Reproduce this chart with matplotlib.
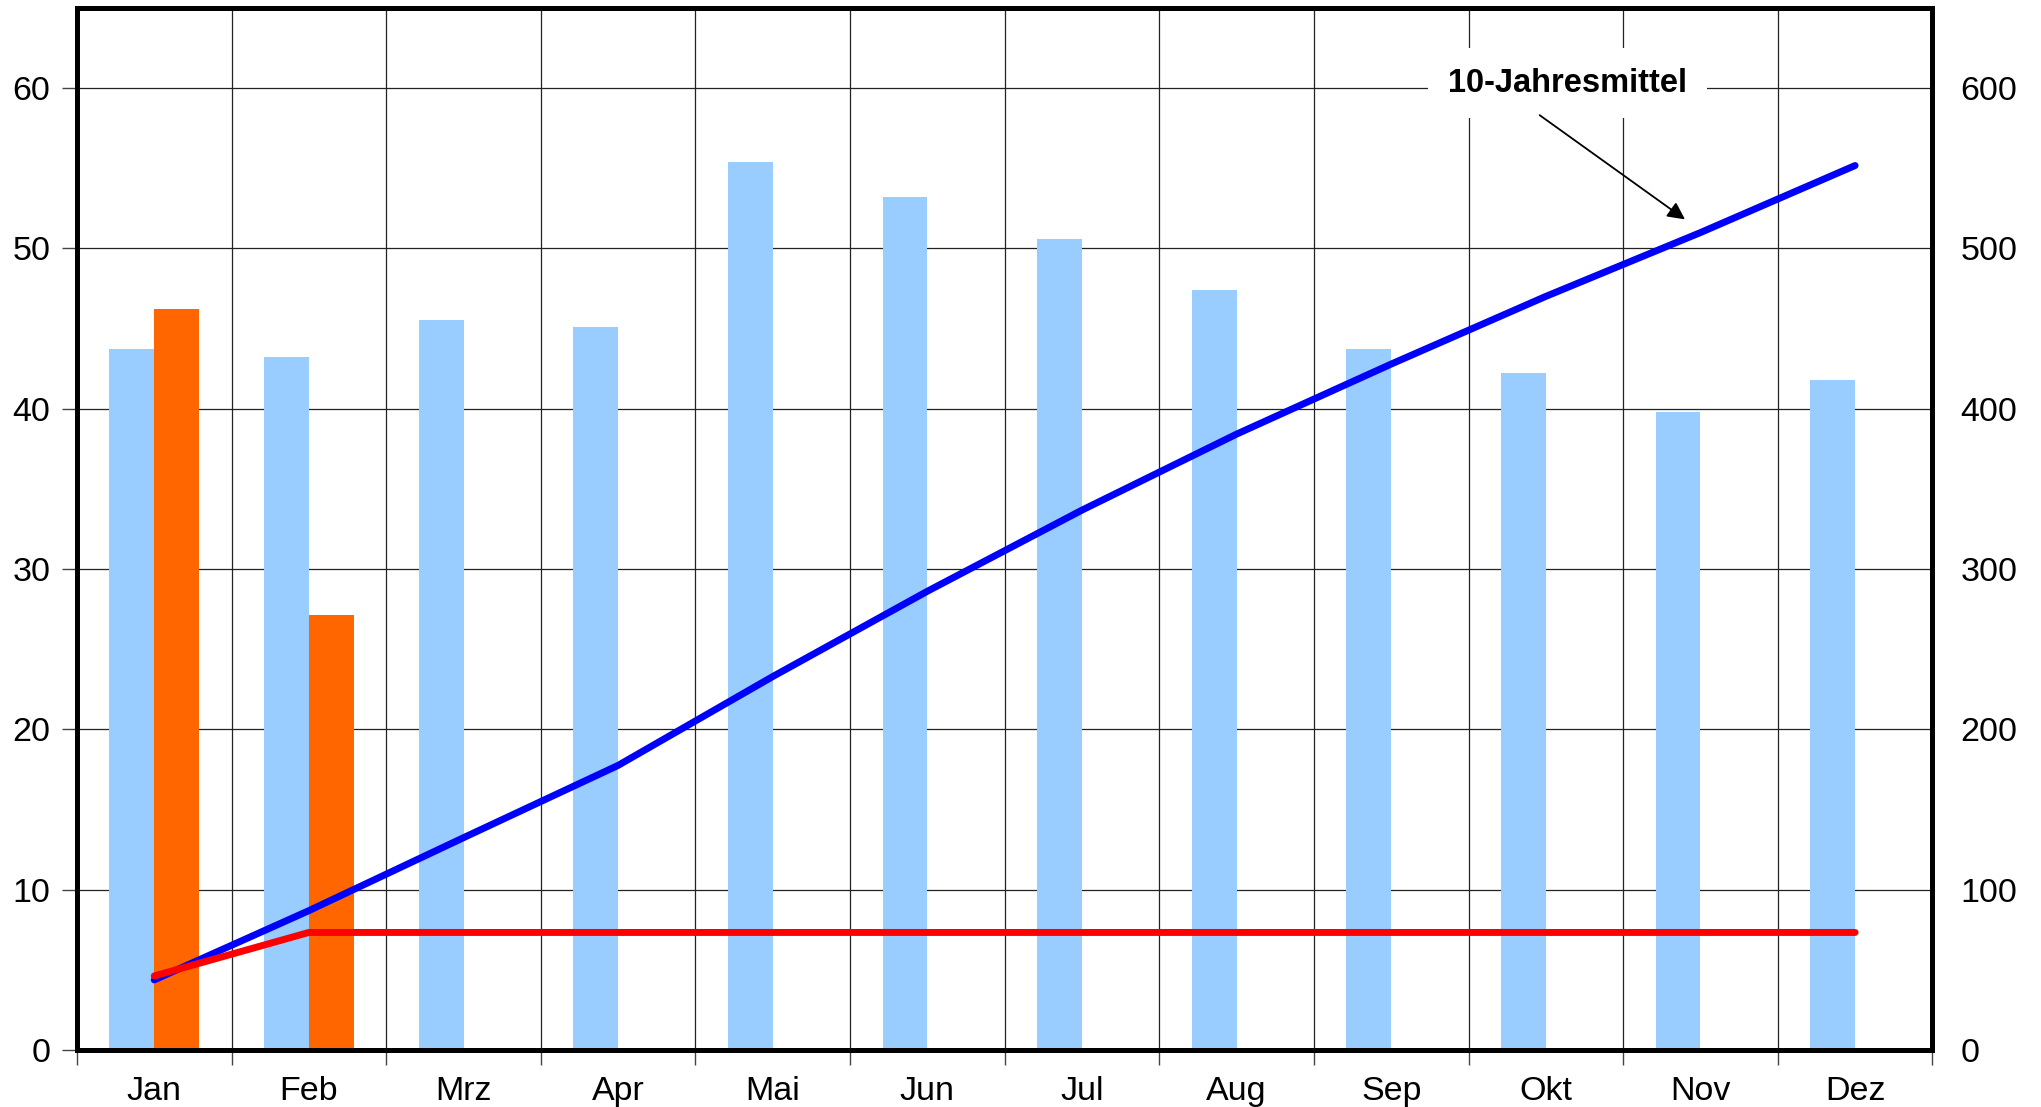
import matplotlib.pyplot as plt
import numpy as np

plt.rcParams['font.family'] = ['Liberation Sans', 'DejaVu Sans']

months = ['Jan', 'Feb', 'Mrz', 'Apr', 'Mai', 'Jun', 'Jul', 'Aug', 'Sep', 'Okt', 'Nov', 'Dez']
mittel_monat = [43.7, 43.2, 45.5, 45.1, 55.4, 53.2, 50.6, 47.4, 43.7, 42.2, 39.8, 41.8]
aktuell_monat = [46.2, 27.1]
mittel_summe = [43.7, 86.9, 132.4, 177.5, 232.9, 286.1, 336.7, 384.1, 427.8, 470.0, 509.8, 551.6]
aktuell_summe = [46.2, 73.3, 73.3, 73.3, 73.3, 73.3, 73.3, 73.3, 73.3, 73.3, 73.3, 73.3]

x = np.arange(len(months))
w = 0.29

fig = plt.figure(figsize=(20.41, 11.07), dpi=100)
ax = fig.add_axes([0.0377, 0.0515, 0.9091, 0.9415])

ax.bar(x - w / 2, mittel_monat, w, color='#99CCFF', zorder=2)
ax.bar(x[:len(aktuell_monat)] + w / 2, aktuell_monat, w, color='#FF6600', zorder=2)

ax.set_xlim(-0.5, 11.5)
ax.set_ylim(0, 65)
ax.set_yticks(np.arange(0, 61, 10))
ax.set_xticks(x)
ax.set_xticklabels(months)
ax.set_xticks(np.arange(-0.5, 12, 1), minor=True)
ax.tick_params(axis='x', which='major', length=0, pad=19, labelsize=24.5)
ax.tick_params(axis='x', which='minor', length=11, width=1, color='#444444')
ax.tick_params(axis='y', length=11, width=1, color='#444444', pad=8, labelsize=24.5)
ax.grid(axis='y', color='#222222', lw=0.9)
ax.grid(axis='x', which='minor', color='#222222', lw=0.9)
ax.set_axisbelow(True)

ax2 = ax.twinx()
ax2.plot(x, mittel_summe, color='#0000FF', lw=5, solid_capstyle='round', zorder=3)
ax2.plot(x, aktuell_summe, color='#FF0000', lw=5, solid_capstyle='round', zorder=3)
ax2.set_ylim(0, 650)
ax2.set_yticks(np.arange(0, 601, 100))
ax2.tick_params(axis='y', length=0, pad=20, labelsize=24.5)

for a in (ax, ax2):
    for s in a.spines.values():
        s.set_linewidth(3.5)
        s.set_color('black')

ax2.text(9.14, 603, '10-Jahresmittel', ha='center', va='center',
         fontsize=23.5, fontweight='bold',
         family=['Liberation Sans Narrow', 'Liberation Sans'],
         bbox=dict(boxstyle='square,pad=0.6', fc='white', ec='none'), zorder=4)
ax2.annotate('', xy=(9.9, 518), xytext=(8.96, 583),
             arrowprops=dict(arrowstyle='-|>', color='black', lw=1.3,
                             mutation_scale=26, shrinkA=0, shrinkB=0), zorder=4)

fig.savefig('out.png', dpi=100)
